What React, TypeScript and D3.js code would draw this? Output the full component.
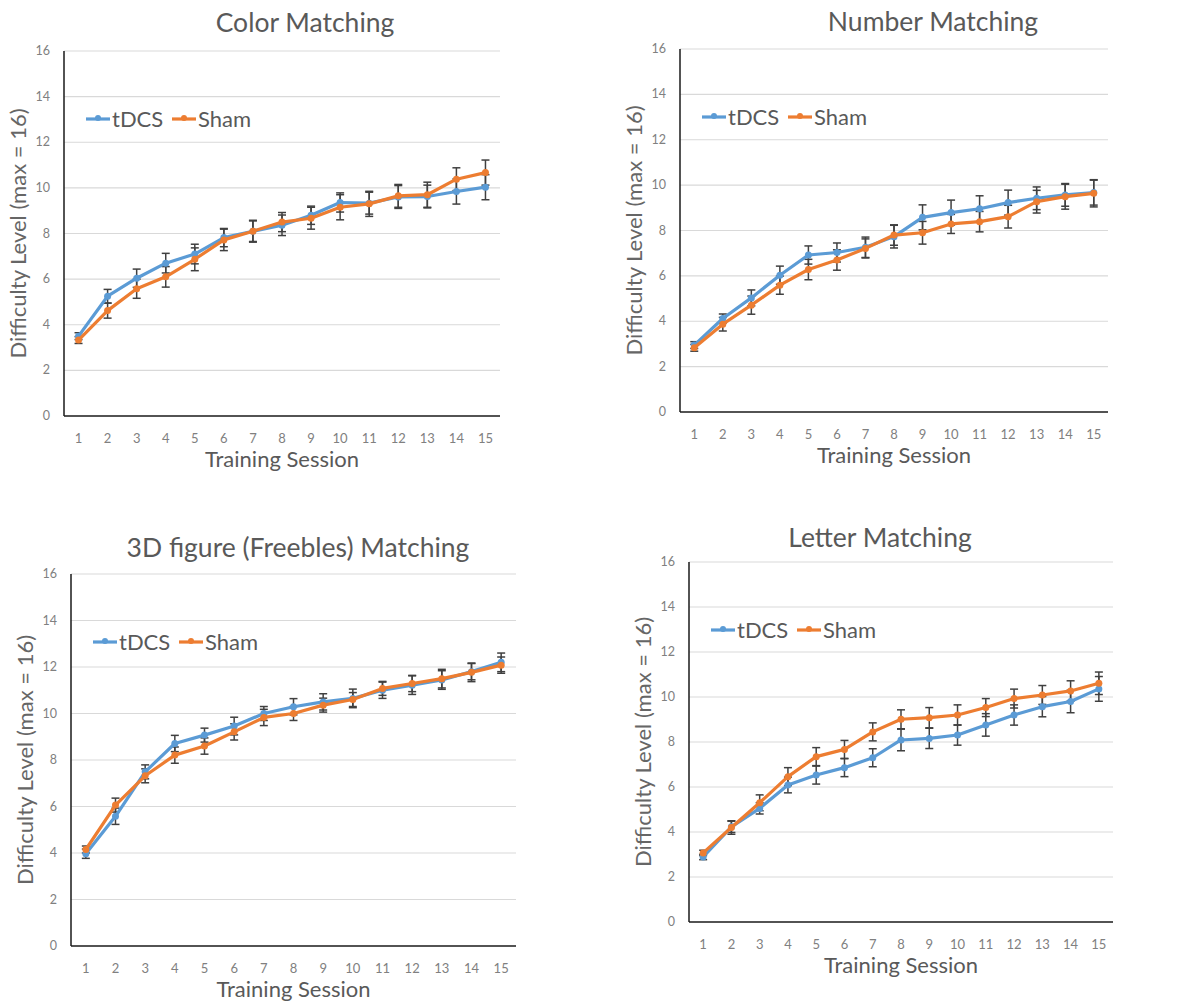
import React from 'react';
import * as d3 from 'd3';

// sessions and y ticks
const sessions = ['1', '2', '3', '4', '5', '6', '7', '8', '9', '10', '11', '12', '13', '14', '15'];
const yTicks = [0, 2, 4, 6, 8, 10, 12, 14, 16];
const seriesNames = ['tDCS', 'Sham'];

// Color Matching
const colorTdcs = [3.5, 5.25, 6.04, 6.7, 7.1, 7.82, 8.1, 8.36, 8.8, 9.36, 9.33, 9.6, 9.62, 9.84, 10.03];
const colorTdcsErr = [0.15, 0.3, 0.4, 0.43, 0.43, 0.4, 0.45, 0.45, 0.4, 0.42, 0.48, 0.5, 0.5, 0.55, 0.55];
const colorSham = [3.33, 4.62, 5.58, 6.1, 6.87, 7.72, 8.1, 8.5, 8.67, 9.15, 9.3, 9.65, 9.7, 10.38, 10.67];
const colorShamErr = [0.15, 0.33, 0.42, 0.45, 0.5, 0.47, 0.48, 0.42, 0.48, 0.55, 0.55, 0.5, 0.55, 0.5, 0.55];

// Number Matching
const numberTdcs = [2.95, 4.12, 5.03, 6.03, 6.92, 7.03, 7.26, 7.73, 8.58, 8.79, 8.96, 9.23, 9.42, 9.57, 9.67];
const numberTdcsErr = [0.15, 0.2, 0.35, 0.4, 0.4, 0.42, 0.45, 0.5, 0.55, 0.55, 0.57, 0.55, 0.5, 0.5, 0.55];
const numberSham = [2.83, 3.87, 4.71, 5.59, 6.28, 6.7, 7.21, 7.8, 7.9, 8.29, 8.39, 8.61, 9.27, 9.49, 9.64];
const numberShamErr = [0.15, 0.3, 0.4, 0.4, 0.45, 0.45, 0.42, 0.45, 0.5, 0.42, 0.45, 0.5, 0.5, 0.55, 0.6];

// 3D figure (Freebles) Matching
const figureTdcs = [3.97, 5.58, 7.49, 8.71, 9.07, 9.46, 10.0, 10.29, 10.5, 10.65, 11.0, 11.22, 11.44, 11.8, 12.2];
const figureTdcsErr = [0.2, 0.35, 0.3, 0.35, 0.3, 0.38, 0.3, 0.35, 0.35, 0.4, 0.35, 0.4, 0.4, 0.35, 0.4];
const figureSham = [4.15, 6.06, 7.32, 8.21, 8.6, 9.21, 9.83, 10.0, 10.36, 10.6, 11.08, 11.29, 11.5, 11.77, 12.08];
const figureShamErr = [0.15, 0.3, 0.3, 0.35, 0.35, 0.35, 0.35, 0.3, 0.3, 0.3, 0.3, 0.35, 0.4, 0.4, 0.35];

// Letter Matching
const letterTdcs = [2.89, 4.23, 5.05, 6.09, 6.53, 6.86, 7.3, 8.09, 8.16, 8.31, 8.76, 9.2, 9.57, 9.8, 10.36];
const letterTdcsErr = [0.12, 0.25, 0.25, 0.35, 0.4, 0.4, 0.4, 0.48, 0.45, 0.45, 0.5, 0.45, 0.45, 0.5, 0.55];
const letterSham = [3.07, 4.2, 5.3, 6.46, 7.35, 7.67, 8.45, 9.01, 9.08, 9.2, 9.53, 9.93, 10.09, 10.27, 10.61];
const letterShamErr = [0.12, 0.3, 0.35, 0.4, 0.4, 0.4, 0.4, 0.42, 0.45, 0.45, 0.4, 0.42, 0.42, 0.45, 0.5];

const colors = ['#5b9bd5', '#ed7d31'];
const font = 'Lato, "Open Sans", sans-serif';

const panels = [
  { title: 'Color Matching', titleX: 305, titleY: 32, left: 64, right: 500, top: 51, bottom: 416,
    values: [colorTdcs, colorSham], errs: [colorTdcsErr, colorShamErr] },
  { title: 'Number Matching', titleX: 933, titleY: 31, left: 680, right: 1108, top: 49, bottom: 412,
    values: [numberTdcs, numberSham], errs: [numberTdcsErr, numberShamErr] },
  { title: '3D figure (Freebles) Matching', titleX: 298, titleY: 557, left: 71, right: 516, top: 574, bottom: 946,
    values: [figureTdcs, figureSham], errs: [figureTdcsErr, figureShamErr] },
  { title: 'Letter Matching', titleX: 880, titleY: 547, left: 689, right: 1113, top: 562, bottom: 922,
    values: [letterTdcs, letterSham], errs: [letterTdcsErr, letterShamErr] },
];

function Panel({ p }) {
  const x = d3.scalePoint().domain(sessions).range([p.left, p.right]).padding(0.5);
  const y = d3.scaleLinear().domain([0, 16]).range([p.bottom, p.top]);
  const line = d3.line().x((d, i) => x(sessions[i])).y(d => y(d));
  const midX = (p.left + p.right) / 2;
  const midY = (p.top + p.bottom) / 2;
  const legendY = p.top + 68;
  const legendX = p.left + 22;
  const legendStep = [0, 86];

  return (
    <g>
      <text x={p.titleX} y={p.titleY} textAnchor="middle" fontSize={26.5} fill="#595959" fontFamily={font}>{p.title}</text>

      {yTicks.map(t => (
        <g key={t}>
          {t > 0 && <line x1={p.left} x2={p.right} y1={y(t)} y2={y(t)} stroke="#d9d9d9" strokeWidth={1.2} />}
          <text x={p.left - 14} y={y(t) + 4} textAnchor="end" fontSize={12.5} fill="#808080" fontFamily={font}>{t}</text>
        </g>
      ))}

      <line x1={p.left} x2={p.left} y1={p.top} y2={p.bottom} stroke="#1a1a1a" strokeWidth={1.5} />
      <line x1={p.left} x2={p.right} y1={p.bottom} y2={p.bottom} stroke="#1a1a1a" strokeWidth={1.5} />

      {sessions.map(s => (
        <text key={s} x={x(s)} y={p.bottom + 27} textAnchor="middle" fontSize={13} fill="#808080" fontFamily={font}>{s}</text>
      ))}

      <text x={midX} y={p.bottom + 51} textAnchor="middle" fontSize={22} fill="#595959" fontFamily={font}>Training Session</text>
      <text transform={`translate(${p.left - 44},${midY}) rotate(-90)`} textAnchor="middle" dominantBaseline="middle"
        fontSize={22} fill="#666666" fontFamily={font}>Difficulty Level (max = 16)</text>

      {p.values.map((vals, si) => (
        <g key={'e' + si}>
          {vals.map((v, i) => {
            const cx = x(sessions[i]);
            const e = p.errs[si][i];
            return (
              <g key={i} stroke="#404040" strokeWidth={1.5}>
                <line x1={cx} x2={cx} y1={y(v - e)} y2={y(v + e)} />
                <line x1={cx - 4} x2={cx + 4} y1={y(v - e)} y2={y(v - e)} />
                <line x1={cx - 4} x2={cx + 4} y1={y(v + e)} y2={y(v + e)} />
              </g>
            );
          })}
        </g>
      ))}

      {p.values.map((vals, si) => (
        <g key={'l' + si}>
          <path d={line(vals)} fill="none" stroke={colors[si]} strokeWidth={3.2} strokeLinejoin="round" />
          {vals.map((v, i) => (
            <circle key={i} cx={x(sessions[i])} cy={y(v)} r={3.5} fill={colors[si]} />
          ))}
        </g>
      ))}

      {seriesNames.map((n, si) => (
        <g key={n} transform={`translate(${legendX + legendStep[si]},${legendY})`}>
          <line x1={0} x2={24} y1={0} y2={0} stroke={colors[si]} strokeWidth={3.2} />
          <circle cx={12} cy={-1} r={3} fill={colors[si]} />
          <text x={26} y={8} fontSize={22} fill="#595959" fontFamily={font}>{n}</text>
        </g>
      ))}
    </g>
  );
}

export default function App() {
  return (
    <svg width={1186} height={1008} style={{ position: 'absolute', left: 0, top: 0, background: '#fff' }}>
      <rect width={1186} height={1008} fill="#fff" />
      {panels.map(p => <Panel key={p.title} p={p} />)}
    </svg>
  );
}
